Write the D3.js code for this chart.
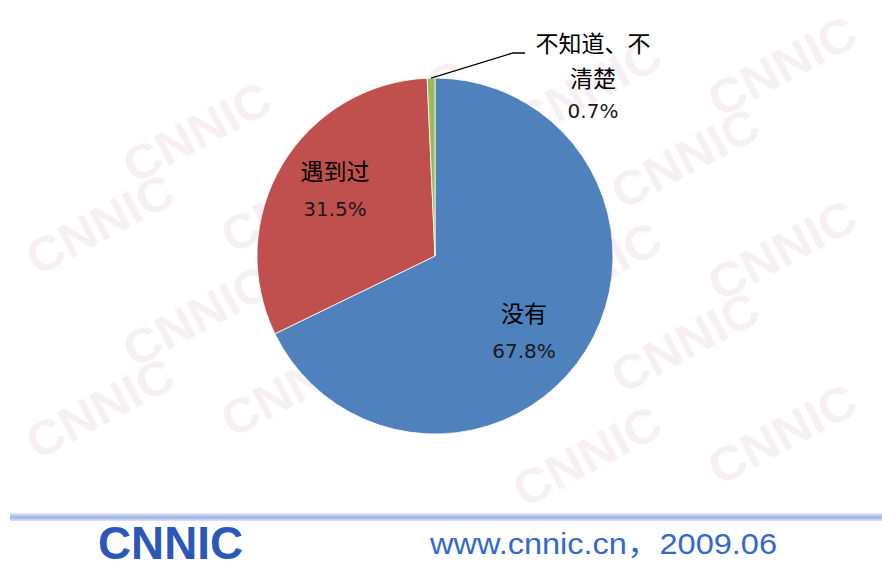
<!DOCTYPE html>
<html>
<head>
<meta charset="utf-8">
<script src="https://cdn.jsdelivr.net/npm/d3@7"></script>
<style>
  body { margin: 0; background: #fff; }
  svg { display: block; }
</style>
</head>
<body>
<div id="chart"></div>
<script>
// data
let categories = ['没有', '遇到过', '不知道、不清楚'];
let shares     = [67.8, 31.5, 0.7];
let labelLines = [['没有'], ['遇到过'], ['不知道、不', '清楚']];
let colors     = ['#4f81bd', '#c0504d', '#9bbb59'];
let footerText = 'www.cnnic.cn，2009.06';

let width = 882, height = 569;
let cx = 435, cy = 256, r = 178;

let svg = d3.select('#chart')
	.append('svg')
		.attr('width', width)
		.attr('height', height);

let defs = svg.append('defs');
let grad = defs.append('linearGradient')
	.attr('id', 'band')
	.attr('x1', 0).attr('y1', 0).attr('x2', 0).attr('y2', 1);
grad.append('stop').attr('offset', '0%').attr('stop-color', '#e6eafa');
grad.append('stop').attr('offset', '55%').attr('stop-color', '#9fb2e6');
grad.append('stop').attr('offset', '100%').attr('stop-color', '#dfe5f8');

// faint watermark logos, only the ones that fit inside the plot area
let wm = svg.append('g');
let wmPos = [];
for (let row = -1; row < 8; row++) {
	for (let col = -1; col < 6; col++) {
		let x = 100 + col * 195 + (row % 2 ? 97 : 0);
		let y = 40 + row * 92 - col * 22;
		if (x > 85 && x < 800 && y > 48 && y < 465) wmPos.push([x, y]);
	}
}
wm.selectAll('text')
	.data(wmPos)
	.enter().append('text')
		.attr('transform', (d) => 'translate(' + d[0] + ',' + d[1] + ') rotate(-28)')
		.attr('text-anchor', 'middle')
		.attr('dy', '0.35em')
		.attr('font-family', 'Liberation Sans, Arial, sans-serif')
		.attr('font-weight', 'bold')
		.attr('font-size', 48)
		.attr('textLength', 160)
		.attr('lengthAdjust', 'spacingAndGlyphs')
		.attr('fill', '#f6eff3')
		.text('CNNIC');

// pie
let pie = d3.pie().sort(null).value((d) => d);
let arc = d3.arc().innerRadius(0).outerRadius(r);
let arcs = pie(shares);

let g = svg.append('g').attr('transform', 'translate(' + cx + ',' + cy + ')');

g.selectAll('path')
	.data(arcs)
	.enter().append('path')
		.attr('d', arc)
		.attr('fill', (d, i) => colors[i])
		.attr('stroke', '#fff')
		.attr('stroke-width', 0.8);

// label anchors (relative to centre)
let labelAt = [[89, 58], [-100, -84], [158, -212]];
let lineGap = 35;
let numGap  = 37;

arcs.forEach((a, i) => {
	let lines = labelLines[i];
	let t = g.append('g').attr('transform', 'translate(' + labelAt[i][0] + ',' + labelAt[i][1] + ')');
	lines.forEach((s, k) => {
		t.append('text')
			.attr('y', k * lineGap)
			.attr('text-anchor', 'middle')
			.attr('dy', '0.35em')
			.attr('font-family', 'Noto Sans CJK SC, sans-serif')
			.attr('font-size', 23)
			.attr('fill', '#000')
			.text(s);
	});
	t.append('text')
		.attr('y', (lines.length - 1) * lineGap + (i === 2 ? 32 : numGap))
		.attr('text-anchor', 'middle')
		.attr('dy', '0.35em')
		.attr('font-family', 'DejaVu Sans, Verdana, sans-serif')
		.attr('font-size', 20)
		.attr('fill', '#1a1a1a')
		.text(d3.format('.1f')(a.data) + '%');
});

// leader line for the small slice
let small = arcs[2];
let mid = (small.startAngle + small.endAngle) / 2;
let p0 = [Math.sin(mid) * r, -Math.cos(mid) * r];
g.append('polyline')
	.attr('points', [p0, [78, -203], [90, -203]].map((p) => p.join(',')).join(' '))
	.attr('fill', 'none')
	.attr('stroke', '#000')
	.attr('stroke-width', 1.3);

// footer band and texts
svg.append('rect')
	.attr('x', 10).attr('y', 513)
	.attr('width', width - 10).attr('height', 8)
	.attr('fill', 'url(#band)');

svg.append('text')
	.attr('x', 98).attr('y', 559)
	.attr('font-family', 'Liberation Sans, Arial, sans-serif')
	.attr('font-weight', 'bold')
	.attr('font-size', 46)
	.attr('textLength', 145)
	.attr('lengthAdjust', 'spacingAndGlyphs')
	.attr('fill', '#2b58b8')
	.text('CNNIC');

svg.append('text')
	.attr('x', 430).attr('y', 554)
	.attr('font-family', 'Liberation Sans, Noto Sans CJK SC, sans-serif')
	.attr('font-size', 30)
	.attr('textLength', 347)
	.attr('lengthAdjust', 'spacingAndGlyphs')
	.attr('fill', '#3568cf')
	.text(footerText);
</script>
</body>
</html>
